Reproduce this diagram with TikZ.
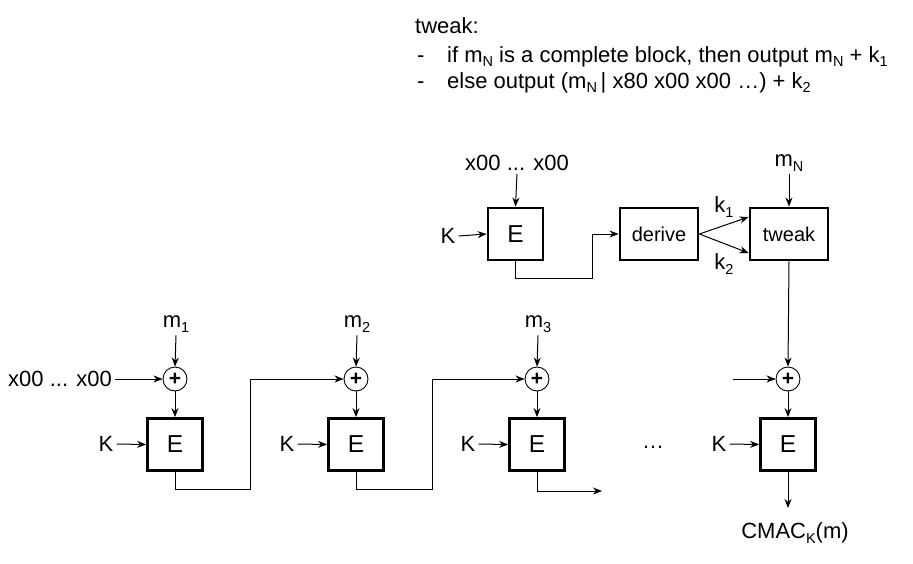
\documentclass[tikz,border=0pt]{standalone}
\usepackage{fontspec}
\setmainfont{Liberation Sans}
\usetikzlibrary{arrows.meta,calc}
\newcommand\lo[1]{\raisebox{-0.2em}{\fontsize{14.5}{15}\selectfont #1}}
\begin{document}
\begin{tikzpicture}[x=1pt,y=-1pt,
  every node/.style={font=\fontsize{22}{26}\selectfont},
  ebox/.style={draw,line width=2.8pt,minimum width=55pt,minimum height=52pt,inner sep=0pt,font=\fontsize{24.5}{28}\selectfont},
  wbox/.style={draw,line width=2.8pt,minimum width=78pt,minimum height=52pt,inner sep=0pt,font=\fontsize{20}{24}\selectfont},
  xorc/.style={draw,circle,line width=0.9pt,minimum size=24pt,inner sep=0pt,font=\fontsize{21}{21}\selectfont\bfseries},
  lbl/.style={inner sep=3pt},
  arr/.style={line width=1pt,-{Stealth[length=9pt,width=7pt]}},
  ln/.style={line width=1pt}]
\useasboundingbox (0,0) rectangle (913,563);

% top explanatory text
\node[anchor=base west,inner sep=0pt] (t0) at (415,33) {tweak:};
\node[anchor=base west,inner sep=0pt] (d1) at (417,62) {-};
\node[anchor=base west,inner sep=0pt] (t1) at (447,62) {if m\lo{N} is a complete block, then output m\lo{N} + k\lo{1}};
\node[anchor=base west,inner sep=0pt] (d2) at (417,88) {-};
\node[anchor=base west,inner sep=0pt] (t2) at (447,88) {else output (m\lo{N}\,| x80 x00 x00 …) + k\lo{2}};

% top row
\node[ebox] (Et) at (515.5,234) {E};
\node[lbl] (xt) at (517,163) {x00 ... x00};
\node[lbl] (Kt) at (448,236) {K};
\node[wbox] (der) at (659,234) {derive};
\node[wbox] (tw) at (789,234) {tweak};
\node[lbl] (mN) at (789,163) {m\lo{N}};
\node[lbl] (k1) at (724,207) {k\lo{1}};
\node[lbl] (k2) at (724,264) {k\lo{2}};

\draw[arr] (xt.south) -- (Et.north);
\draw[arr] (Kt.east) -- (Et.west);
\draw[arr] (mN.south) -- (tw.north);
\draw[arr] (Et.south) |- (592,278) |- (der.west);
\draw[arr] (der.east) -- ([yshift=17pt]tw.west);
\draw[arr] (der.east) -- ([yshift=-19pt]tw.west);

% bottom row
\foreach \i/\x/\kx in {1/175/106,2/356/287,3/537/468,4/788/719}{
  \node[xorc] (p\i) at (\x,379) {+};
  \node[ebox] (E\i) at (\x,444.5) {E};
  \node[lbl] (K\i) at (\kx,444) {K};
  \draw[arr] (K\i.east) -- (E\i.west);
  \draw[arr] (p\i.south) -- (E\i.north);
}
\foreach \i in {1,2,3}{
  \node[lbl] (m\i) at ($(p\i)+(1,-55)$) {m\lo{\i}};
  \draw[arr] (m\i.south) -- (p\i.north);
}
\node[lbl] (x0) at (60,379) {x00 ... x00};
\draw[arr] (x0.east) -- (p1.west);

\draw[arr] (E1.south) |- (250,489) |- (p2.west);
\draw[arr] (E2.south) |- (432,489) |- (p3.west);
\coordinate (o3) at (602,491);
\draw[arr] (E3.south) |- (o3);

\node[inner sep=0pt,anchor=base] (dots) at (653,448) {…};

\coordinate (i4) at (733,379);
\draw[arr] (i4) -- (p4.west);
\draw[arr] (tw.south) -- (p4.north);

\node[lbl] (cmac) at (795,533) {CMAC\lo{K}(m)};
\coordinate (o4) at (788,508);
\draw[arr] (E4.south) -- (o4);
\end{tikzpicture}
\end{document}
